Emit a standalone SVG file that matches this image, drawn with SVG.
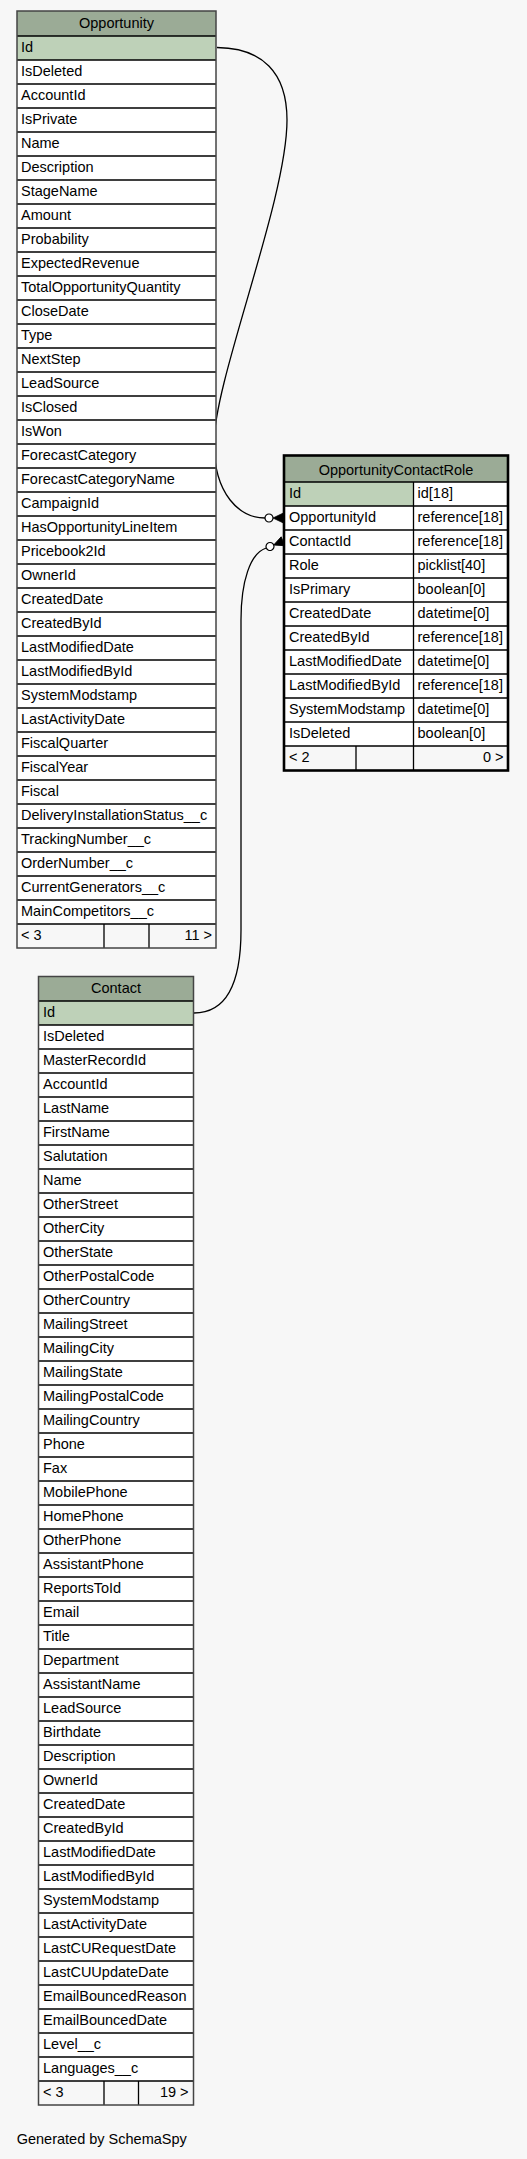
<svg xmlns="http://www.w3.org/2000/svg" width="527" height="2159" viewBox="0 0 527 2159">
<defs>
<style>
text{font-family:"Liberation Sans",Arial,Helvetica,sans-serif;font-size:14.5px;fill:#000}
.hd{fill:#9bab96}
.pk{fill:#bed1b8}
.rw{fill:#ffffff}
.ft{fill:#f7f7f7}
.sep{stroke:#000;stroke-width:1.3;fill:none}
.out{fill:none;stroke:#444;stroke-width:1.5}
.outf{fill:none;stroke:#000;stroke-width:2.6}
.mid{text-anchor:middle}
.end{text-anchor:end}
.edge{fill:none;stroke:#000;stroke-width:1.3}
</style>
<g id="crow">
<circle cx="0" cy="0" r="4" fill="#fff" stroke="#000" stroke-width="1.2"/>
<polygon points="4,0 14,-4.8 14,4.8" fill="#000" stroke="#000" stroke-width="0.8"/>
</g>
</defs>
<rect x="0" y="0" width="527" height="2159" fill="#f7f7f7"/>

<g id="connectors">
<path class="edge" d="M217,47.5 C262,48 287,72 287,120 C287,200 214,380 214,443 C214,495 240,518 265,518"/>
<use href="#crow" transform="translate(269,518)"/>
<path class="edge" d="M194,1013 C226,1013 241,985 241,930 L241,620 C241,582 250,553 266.3,548"/>
<use href="#crow" transform="translate(270,546.5) rotate(-22)"/>
</g>

<g id="Opportunity">
<rect class="hd" x="17" y="11" width="199" height="25"/>
<rect class="pk" x="17" y="36" width="199" height="24"/>
<rect class="rw" x="17" y="60" width="199" height="864"/>
<rect class="ft" x="17" y="924" width="199" height="24"/>
<path class="sep" d="M17,36H216M17,60H216M17,84H216M17,108H216M17,132H216M17,156H216M17,180H216M17,204H216M17,228H216M17,252H216M17,276H216M17,300H216M17,324H216M17,348H216M17,372H216M17,396H216M17,420H216M17,444H216M17,468H216M17,492H216M17,516H216M17,540H216M17,564H216M17,588H216M17,612H216M17,636H216M17,660H216M17,684H216M17,708H216M17,732H216M17,756H216M17,780H216M17,804H216M17,828H216M17,852H216M17,876H216M17,900H216M17,924H216M104,924V948M149,924V948"/>
<rect class="out" x="17" y="11" width="199" height="937"/>
<text class="mid" x="116.5" y="27.5">Opportunity</text>
<text x="21" y="52">Id</text>
<text x="21" y="76">IsDeleted</text>
<text x="21" y="100">AccountId</text>
<text x="21" y="124">IsPrivate</text>
<text x="21" y="148">Name</text>
<text x="21" y="172">Description</text>
<text x="21" y="196">StageName</text>
<text x="21" y="220">Amount</text>
<text x="21" y="244">Probability</text>
<text x="21" y="268">ExpectedRevenue</text>
<text x="21" y="292">TotalOpportunityQuantity</text>
<text x="21" y="316">CloseDate</text>
<text x="21" y="340">Type</text>
<text x="21" y="364">NextStep</text>
<text x="21" y="388">LeadSource</text>
<text x="21" y="412">IsClosed</text>
<text x="21" y="436">IsWon</text>
<text x="21" y="460">ForecastCategory</text>
<text x="21" y="484">ForecastCategoryName</text>
<text x="21" y="508">CampaignId</text>
<text x="21" y="532">HasOpportunityLineItem</text>
<text x="21" y="556">Pricebook2Id</text>
<text x="21" y="580">OwnerId</text>
<text x="21" y="604">CreatedDate</text>
<text x="21" y="628">CreatedById</text>
<text x="21" y="652">LastModifiedDate</text>
<text x="21" y="676">LastModifiedById</text>
<text x="21" y="700">SystemModstamp</text>
<text x="21" y="724">LastActivityDate</text>
<text x="21" y="748">FiscalQuarter</text>
<text x="21" y="772">FiscalYear</text>
<text x="21" y="796">Fiscal</text>
<text x="21" y="820">DeliveryInstallationStatus__c</text>
<text x="21" y="844">TrackingNumber__c</text>
<text x="21" y="868">OrderNumber__c</text>
<text x="21" y="892">CurrentGenerators__c</text>
<text x="21" y="916">MainCompetitors__c</text>
<text x="21" y="939.5">&lt; 3</text>
<text class="end" x="212" y="939.5">11 &gt;</text>
</g>

<g id="OpportunityContactRole">
<rect class="hd" x="284" y="455.5" width="224" height="26.5"/>
<rect class="pk" x="284" y="482" width="129.5" height="24"/>
<rect class="rw" x="413.5" y="482" width="94.5" height="24"/>
<rect class="rw" x="284" y="506" width="224" height="240"/>
<rect class="ft" x="284" y="746" width="224" height="24.5"/>
<path class="sep" d="M284,482H508M284,506H508M284,530H508M284,554H508M284,578H508M284,602H508M284,626H508M284,650H508M284,674H508M284,698H508M284,722H508M284,746H508M413.5,482V770M356,746V770"/>
<rect class="outf" x="284" y="455.5" width="224" height="315"/>
<text class="mid" x="396" y="474.5">OpportunityContactRole</text>
<text x="289" y="498">Id</text><text x="417.5" y="498">id[18]</text>
<text x="289" y="522">OpportunityId</text><text x="417.5" y="522">reference[18]</text>
<text x="289" y="546">ContactId</text><text x="417.5" y="546">reference[18]</text>
<text x="289" y="570">Role</text><text x="417.5" y="570">picklist[40]</text>
<text x="289" y="594">IsPrimary</text><text x="417.5" y="594">boolean[0]</text>
<text x="289" y="618">CreatedDate</text><text x="417.5" y="618">datetime[0]</text>
<text x="289" y="642">CreatedById</text><text x="417.5" y="642">reference[18]</text>
<text x="289" y="666">LastModifiedDate</text><text x="417.5" y="666">datetime[0]</text>
<text x="289" y="690">LastModifiedById</text><text x="417.5" y="690">reference[18]</text>
<text x="289" y="714">SystemModstamp</text><text x="417.5" y="714">datetime[0]</text>
<text x="289" y="738">IsDeleted</text><text x="417.5" y="738">boolean[0]</text>
<text x="289" y="761.5">&lt; 2</text>
<text class="end" x="503.5" y="761.5">0 &gt;</text>
</g>

<g id="Contact">
<rect class="hd" x="38.5" y="976.5" width="155" height="24.5"/>
<rect class="pk" x="38.5" y="1001" width="155" height="24"/>
<rect class="rw" x="38.5" y="1025" width="155" height="1056"/>
<rect class="ft" x="38.5" y="2081" width="155" height="24"/>
<path class="sep" d="M38.5,1001H193.5M38.5,1025H193.5M38.5,1049H193.5M38.5,1073H193.5M38.5,1097H193.5M38.5,1121H193.5M38.5,1145H193.5M38.5,1169H193.5M38.5,1193H193.5M38.5,1217H193.5M38.5,1241H193.5M38.5,1265H193.5M38.5,1289H193.5M38.5,1313H193.5M38.5,1337H193.5M38.5,1361H193.5M38.5,1385H193.5M38.5,1409H193.5M38.5,1433H193.5M38.5,1457H193.5M38.5,1481H193.5M38.5,1505H193.5M38.5,1529H193.5M38.5,1553H193.5M38.5,1577H193.5M38.5,1601H193.5M38.5,1625H193.5M38.5,1649H193.5M38.5,1673H193.5M38.5,1697H193.5M38.5,1721H193.5M38.5,1745H193.5M38.5,1769H193.5M38.5,1793H193.5M38.5,1817H193.5M38.5,1841H193.5M38.5,1865H193.5M38.5,1889H193.5M38.5,1913H193.5M38.5,1937H193.5M38.5,1961H193.5M38.5,1985H193.5M38.5,2009H193.5M38.5,2033H193.5M38.5,2057H193.5M38.5,2081H193.5M104,2081V2105M138.5,2081V2105"/>
<rect class="out" x="38.5" y="976.5" width="155" height="1128.5"/>
<text class="mid" x="116" y="992.5">Contact</text>
<text x="43" y="1017">Id</text>
<text x="43" y="1041">IsDeleted</text>
<text x="43" y="1065">MasterRecordId</text>
<text x="43" y="1089">AccountId</text>
<text x="43" y="1113">LastName</text>
<text x="43" y="1137">FirstName</text>
<text x="43" y="1161">Salutation</text>
<text x="43" y="1185">Name</text>
<text x="43" y="1209">OtherStreet</text>
<text x="43" y="1233">OtherCity</text>
<text x="43" y="1257">OtherState</text>
<text x="43" y="1281">OtherPostalCode</text>
<text x="43" y="1305">OtherCountry</text>
<text x="43" y="1329">MailingStreet</text>
<text x="43" y="1353">MailingCity</text>
<text x="43" y="1377">MailingState</text>
<text x="43" y="1401">MailingPostalCode</text>
<text x="43" y="1425">MailingCountry</text>
<text x="43" y="1449">Phone</text>
<text x="43" y="1473">Fax</text>
<text x="43" y="1497">MobilePhone</text>
<text x="43" y="1521">HomePhone</text>
<text x="43" y="1545">OtherPhone</text>
<text x="43" y="1569">AssistantPhone</text>
<text x="43" y="1593">ReportsToId</text>
<text x="43" y="1617">Email</text>
<text x="43" y="1641">Title</text>
<text x="43" y="1665">Department</text>
<text x="43" y="1689">AssistantName</text>
<text x="43" y="1713">LeadSource</text>
<text x="43" y="1737">Birthdate</text>
<text x="43" y="1761">Description</text>
<text x="43" y="1785">OwnerId</text>
<text x="43" y="1809">CreatedDate</text>
<text x="43" y="1833">CreatedById</text>
<text x="43" y="1857">LastModifiedDate</text>
<text x="43" y="1881">LastModifiedById</text>
<text x="43" y="1905">SystemModstamp</text>
<text x="43" y="1929">LastActivityDate</text>
<text x="43" y="1953">LastCURequestDate</text>
<text x="43" y="1977">LastCUUpdateDate</text>
<text x="43" y="2001">EmailBouncedReason</text>
<text x="43" y="2025">EmailBouncedDate</text>
<text x="43" y="2049">Level__c</text>
<text x="43" y="2073">Languages__c</text>
<text x="43" y="2096.5">&lt; 3</text>
<text class="end" x="188.5" y="2096.5">19 &gt;</text>
</g>

<text x="16.7" y="2144">Generated by SchemaSpy</text>
</svg>
